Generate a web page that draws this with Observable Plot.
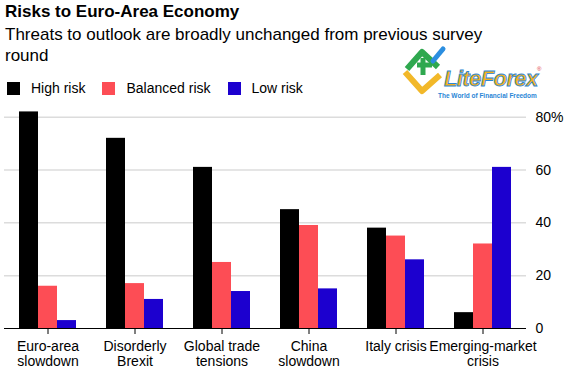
<!DOCTYPE html>
<html>
<head>
<meta charset="utf-8">
<script src="https://cdn.jsdelivr.net/npm/d3@7"></script>
<script src="https://cdn.jsdelivr.net/npm/@observablehq/plot@0.6"></script>
<style>
  html, body { margin: 0; padding: 0; background: #fff; }
  body { width: 577px; height: 376px; position: relative; overflow: hidden; font-family: "Liberation Sans", Arial, Helvetica, sans-serif; color: #000; }
  #title { position: absolute; left: 5px; top: 1px; font-size: 17px; font-weight: bold; line-height: 22px; }
  #subtitle { position: absolute; left: 5px; top: 24px; font-size: 17px; line-height: 21px; }
  #legend { position: absolute; left: 7px; top: 80px; display: flex; align-items: center; font-size: 14px; line-height: 16px; }
  #legend .item { display: flex; align-items: center; margin-right: 17px; }
  #legend .sw { width: 13px; height: 13px; margin-right: 11px; }
  #chart { position: absolute; left: 0; top: 100px; }
  #logo { position: absolute; left: 398px; top: 44px; }
</style>
</head>
<body>
<div id="title">Risks to Euro-Area Economy</div>
<div id="subtitle">Threats to outlook are broadly unchanged from previous survey<br>round</div>
<div id="legend"></div>
<svg id="logo" width="150" height="56" viewBox="0 0 150 56">
  <polyline points="7,28 24,47 42,31" fill="none" stroke="#f2b829" stroke-width="6" stroke-linejoin="round"/>
  <polyline points="9,25 24,8 40,23" fill="none" stroke="#2fa84f" stroke-width="6" stroke-linejoin="round"/>
  <line x1="19" y1="21" x2="34" y2="21" stroke="#2fa84f" stroke-width="5"/>
  <line x1="25" y1="14" x2="25" y2="31" stroke="#2fa84f" stroke-width="5"/>
  <line x1="35" y1="17" x2="45" y2="5" stroke="#2b8ee0" stroke-width="5" stroke-linecap="round"/>
  <text x="46" y="42" font-family="Liberation Sans, Arial" font-size="22" font-weight="bold" font-style="italic" fill="#f2b020" stroke="#2a86d6" stroke-width="0.8" letter-spacing="-0.6">LiteForex</text>
  <text x="139" y="27" font-family="Liberation Sans, Arial" font-size="6" fill="#d33">®</text>
  <text x="40" y="54" font-family="Liberation Sans, Arial" font-size="6.5" font-weight="bold" fill="#2a86d6">The World of Financial Freedom</text>
</svg>
<div id="chart"></div>
<script>
const categories = ["Euro-area slowdown", "Disorderly Brexit", "Global trade tensions", "China slowdown", "Italy crisis", "Emerging-market crisis"];
const categoryLabels = ["Euro-area\nslowdown", "Disorderly\nBrexit", "Global trade\ntensions", "China\nslowdown", "Italy crisis", "Emerging-market\ncrisis"];
const series = ["High risk", "Balanced risk", "Low risk"];
const seriesColors = ["#000000", "#fd4d55", "#1c00cf"];
const highRisk = [82, 72, 61, 45, 38, 6];
const balancedRisk = [16, 17, 25, 39, 35, 32];
const lowRisk = [3, 11, 14, 15, 26, 61];
const yTicks = [0, 20, 40, 60, 80];

const values = [highRisk, balancedRisk, lowRisk];
const data = [];
categories.forEach((c, i) => {
  series.forEach((s, j) => data.push({category: c, series: s, value: values[j][i]}));
});

// legend
const legend = document.getElementById("legend");
series.forEach((s, j) => {
  const item = document.createElement("div");
  item.className = "item";
  const sw = document.createElement("div");
  sw.className = "sw";
  sw.style.background = seriesColors[j];
  const t = document.createElement("span");
  t.textContent = s;
  item.appendChild(sw); item.appendChild(t);
  legend.appendChild(item);
});

const chart = Plot.plot({
  width: 577,
  height: 273,
  marginTop: 16.7,
  marginBottom: 45,
  marginLeft: 3,
  marginRight: 50,
  style: {fontFamily: "Liberation Sans, Arial, sans-serif", fontSize: "14px", color: "#000", background: "transparent"},
  fx: {domain: categories, padding: 0, label: null},
  x: {domain: series, paddingInner: 0, paddingOuter: 0.76, axis: null},
  y: {domain: [0, 80], axis: null},
  color: {domain: series, range: seriesColors},
  marks: [
    Plot.ruleY(yTicks.filter(d => d > 0), {stroke: "#dcdcdc", strokeWidth: 1.5}),
    Plot.barY(data, {fx: "category", x: "series", y: "value", fill: "series"}),
    Plot.ruleY([0], {stroke: "#000", strokeWidth: 1.2}),
    Plot.axisFx({anchor: "bottom", tickSize: 6, tickPadding: 5, tickFormat: d => categoryLabels[categories.indexOf(d)], lineHeight: 1.12, label: null, fontSize: 14}),
    Plot.axisY(yTicks, {anchor: "right", tickSize: 0, tickPadding: 9, tickFormat: d => d === 80 ? "80%" : String(d), label: null, fontSize: 14})
  ]
});
document.getElementById("chart").appendChild(chart);
</script>
</body>
</html>
